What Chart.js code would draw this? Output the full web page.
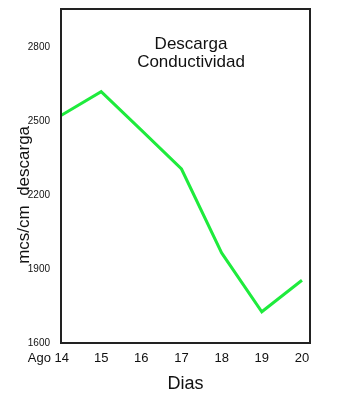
<!DOCTYPE html>
<html>
<head>
<meta charset="utf-8">
<script src="https://cdn.jsdelivr.net/npm/chart.js@4"></script>
<style>
  html, body { margin: 0; padding: 0; background: #fff; }
  #wrap { width: 352px; height: 420px; }
</style>
</head>
<body>
<div id="wrap"><canvas id="chart" width="352" height="420"></canvas></div>
<script>
// values
const days = [14, 15, 16, 17, 18, 19, 20];
const conductividad = [2524, 2621, 2465, 2307, 1966, 1727, 1855];
const yTicks = [1600, 1900, 2200, 2500, 2800];
const titleLines = ['Descarga', 'Conductividad'];

const FONT = "'Liberation Sans', 'DejaVu Sans', sans-serif";

// box around the plot area and the title inside it
const boxPlugin = {
   id: 'box',
   afterDatasetsDraw (chart)
   {
      let ctx = chart.ctx, a = chart.chartArea;
      ctx.save();
      ctx.strokeStyle = '#222';
      ctx.lineWidth = 2;
      ctx.strokeRect(a.left, a.top, a.right - a.left, a.bottom - a.top);
      ctx.fillStyle = '#111';
      ctx.font = '17px ' + FONT;
      ctx.textAlign = 'center';
      ctx.textBaseline = 'alphabetic';
      for (let n = 0; n < titleLines.length; n++)
          ctx.fillText(titleLines [n], 191, 49 + n * 18);
      ctx.restore();
   }
};

let ctx = document.getElementById('chart'),
    desc = {
        type: 'line',
        data:
        {
            datasets:
            [{
                label: 'Conductividad',
                data: days.map((d, i) => ({ x: d, y: conductividad [i] })),
                borderColor: 'rgb(30,235,60)',
                borderWidth: 3,
                pointRadius: 0,
                tension: 0,
                clip: 2
            }]
        },
        options:
        {
            responsive: false,
            animation: false,
            layout: { padding: { left: 0, right: 42, top: 6, bottom: 21 } },
            plugins: { legend: { display: false }, tooltip: { enabled: false } },
            scales:
            {
                x: {
                    type: 'linear',
                    min: 14,
                    max: 20.2,
                    grid: { display: false },
                    border: { display: false },
                    afterBuildTicks: (s) => { s.ticks = days.map(v => ({ value: v })); },
                    afterFit: (s) => { s.height = 56; },
                    ticks: {
                        autoSkip: false,
                        maxRotation: 0,
                        padding: 0,
                        color: '#111',
                        font: { family: FONT, size: 13 },
                        callback: (v) => v === 14 ? 'Ago 14\u00a0\u00a0\u00a0\u00a0\u00a0\u00a0\u00a0' : String(v)
                    },
                    title: {
                        display: true,
                        text: 'Dias',
                        color: '#111',
                        font: { family: FONT, size: 18 },
                        padding: { top: 2 }
                    }
                },
                y: {
                    min: 1600,
                    max: 2957,
                    grid: { display: false },
                    border: { display: false },
                    afterBuildTicks: (s) => { s.ticks = yTicks.map(v => ({ value: v })); },
                    afterFit: (s) => { s.width = 61; },
                    ticks: {
                        padding: 3,
                        color: '#111',
                        font: { family: FONT, size: 10 },
                        callback: (v) => String(v)
                    },
                    title: {
                        display: true,
                        text: 'mcs/cm  descarga' + '\u00a0'.repeat(8),
                        color: '#111',
                        font: { family: FONT, size: 17 },
                        padding: { top: 14, bottom: 0 }
                    }
                }
            }
        },
        plugins: [boxPlugin]
    };

let chart = new Chart(ctx, desc);
</script>
</body>
</html>
